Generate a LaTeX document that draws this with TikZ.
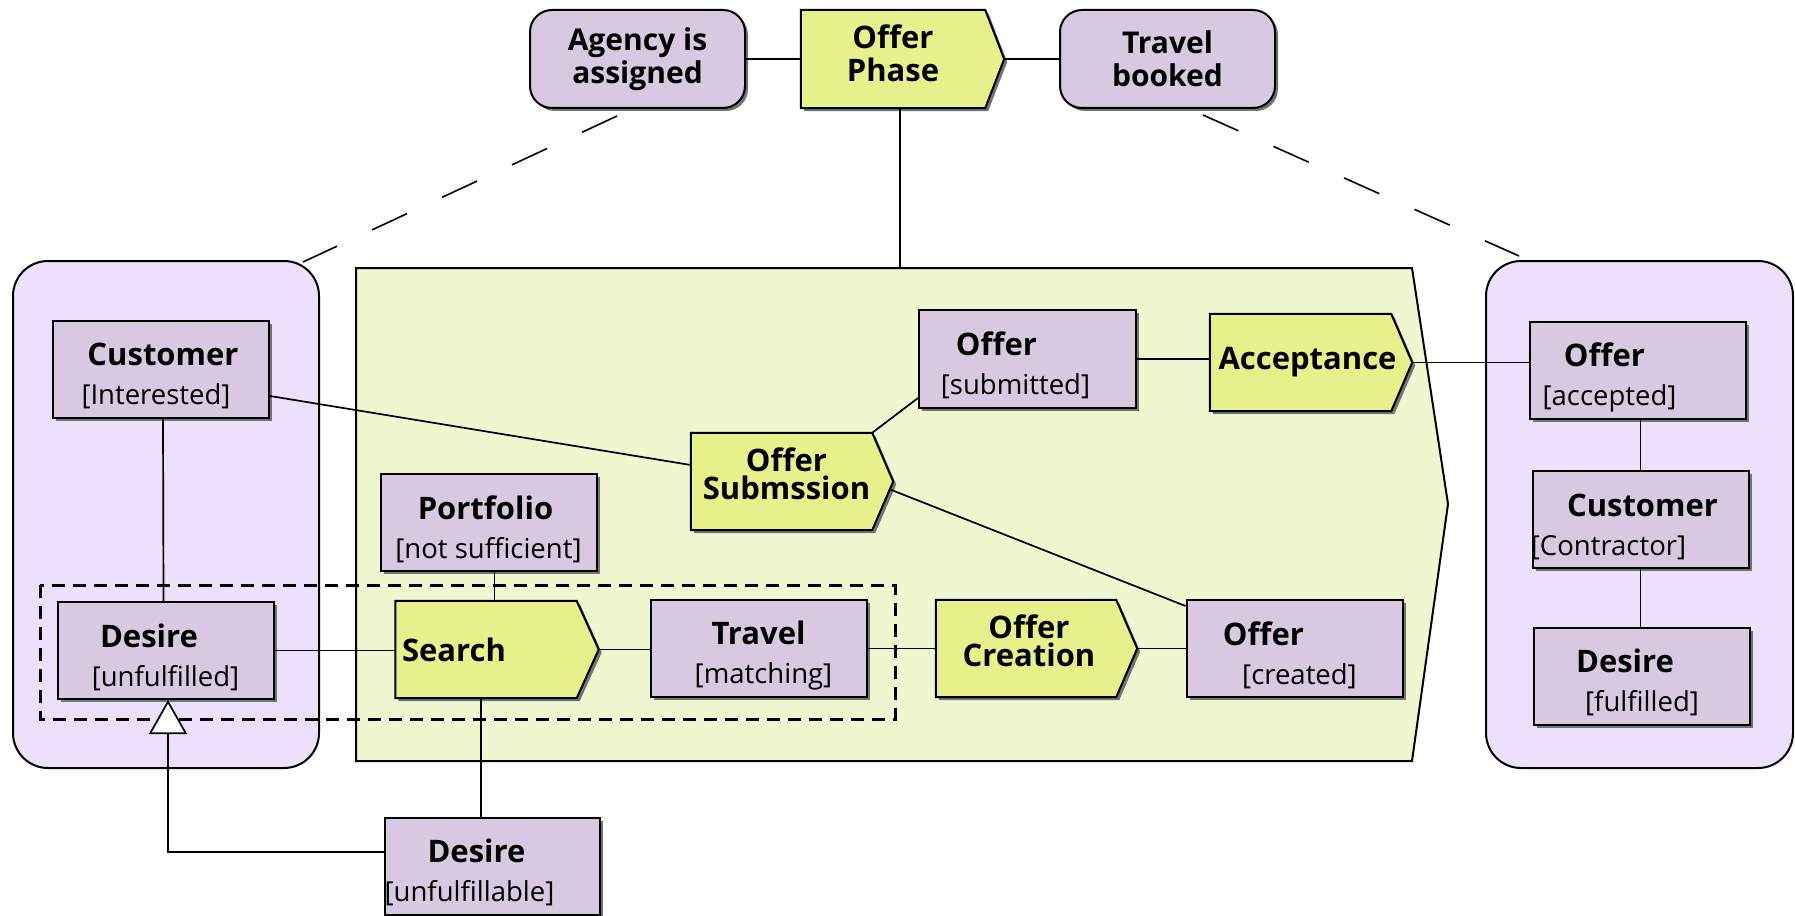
\documentclass[tikz,border=0pt]{standalone}
\usepackage{fontspec}
\setmainfont{Open Sans}
\usetikzlibrary{shadows,arrows.meta,calc}
\definecolor{boxfill}{RGB}{216,201,226}
\definecolor{chevfill}{RGB}{230,241,140}
\definecolor{regfill}{RGB}{240,247,208}
\definecolor{contfill}{RGB}{237,224,252}
\pgfdeclarelayer{bg}
\pgfdeclarelayer{chev}
\pgfsetlayers{bg,chev,main}
\newcommand\shl[2]{\hbox to 0pt{\hss\kern#1\relax #2\hss}}
\newcommand\objt[4]{\shl{#3}{\rule{0pt}{37pt}\bfseries\fontsize{31}{31}\selectfont #1}\\\shl{#4}{#2}}
\newcommand\lowr[1]{\rule[-#1]{0pt}{0pt}}
\tikzset{
 sh/.style={drop shadow={shadow xshift=3pt,shadow yshift=-3pt,fill=black!55,opacity=1}},
 obj/.style={draw=black,line width=2pt,fill=boxfill,minimum width=216pt,minimum height=97pt,inner sep=0pt,align=center,font=\fontsize{27.5}{39}\selectfont,sh},
 ev/.style={draw=black,line width=2pt,fill=boxfill,rounded corners=22pt,minimum width=215pt,minimum height=98pt,inner sep=0pt,align=center,font=\fontsize{30}{33}\bfseries\selectfont,sh},
 chevtext/.style={minimum width=181pt,minimum height=97pt,inner sep=0pt,align=center,font=\fontsize{31}{28}\bfseries\selectfont},
 chevshape/.style={draw=black,line width=2pt,fill=chevfill,sh},
 conn/.style={line width=1.7pt,draw=black},
 cont/.style={draw=black,line width=2pt,fill=contfill,rounded corners=35pt},
 region/.style={draw=black,line width=2pt,fill=regfill},
 group/.style={draw=black,line width=3pt,dash pattern=on 13pt off 8pt},
 trace/.style={draw=black,line width=1.6pt,dash pattern=on 38.6pt off 38.6pt},
}
\begin{document}
\begin{tikzpicture}[x=1pt,y=-1pt]
\useasboundingbox (0,0) rectangle (1795,915);
\begin{pgfonlayer}{bg}
\draw[cont] (13,261) rectangle (319,768);
\draw[cont] (1486,261) rectangle (1793,768);
\draw[region] (356,268) -- (1412,268) -- (1448,504) -- (1412,761) -- (356,761) -- cycle;
\draw[group] (40,585) rectangle (895,719);
\end{pgfonlayer}
\coordinate (regtop) at (900,268);
\coordinate (ta) at (617,116);
\coordinate (lc) at (303,262);
\coordinate (tb) at (1203,115);
\coordinate (rc) at (1519,256);

\node[ev] (agency) at (637.5,59) {Agency is\\assigned};
\node[chevtext,minimum width=184pt,minimum height=98pt,font=\fontsize{31}{33}\bfseries\selectfont] (phase) at (893,59) {Offer\\Phase\lowr{12pt}};
\node[ev] (booked) at (1167.5,59) {Travel\\booked};

\node[obj] (custI) at (161,369) {\objt{Customer}{[Interested]}{4pt}{-10pt}};
\node[obj] (desU) at (165.5,650.5) {\objt{Desire}{[unfulfilled]}{-33pt}{0pt}};
\node[obj] (portf) at (488.5,522.5) {\objt{Portfolio}{[not sufficient]}{-6pt}{0pt}};
\node[chevtext] (search) at (486,649.5) {\shl{-64pt}{Search}};
\node[obj] (travel) at (758.5,648.5) {\objt{Travel}{[matching]}{0pt}{10pt}};
\node[chevtext,minimum width=180pt] (ocreat) at (1026,648.5) {\shl{6pt}{Offer}\\\shl{6pt}{Creation}\lowr{16pt}};
\node[obj] (offcr) at (1294.5,648.5) {\objt{Offer}{[created]}{-62pt}{10pt}};
\node[chevtext] (osubm) at (781.5,481.5) {\shl{10pt}{Offer}\\\shl{10pt}{Submssion}\lowr{16pt}};
\node[obj,minimum width=217pt,minimum height=98pt] (offsub) at (1027.5,359) {\objt{Offer}{[submitted]}{-62pt}{-24pt}};
\node[chevtext] (accept) at (1300.5,362.5) {\shl{14pt}{Acceptance}};
\node[obj] (offacc) at (1637.5,370.5) {\objt{Offer}{[accepted]}{-66pt}{-56pt}};
\node[obj] (custC) at (1640.5,519.5) {\objt{Customer}{[Contractor]}{4pt}{-64pt}};
\node[obj] (desF) at (1642,676) {\objt{Desire}{[fulfilled]}{-34pt}{0pt}};
\node[obj,minimum width=215pt] (desUF) at (492.5,866) {\objt{Desire}{[unfulfillable]}{-32pt}{-46pt}};

\begin{pgfonlayer}{chev}
\foreach \n/\t in {phase/19,search/22,ocreat/21,osubm/21,accept/21}
  \draw[chevshape] (\n.north west) -- (\n.north east) -- ([xshift=\t pt]\n.east) -- (\n.south east) -- (\n.south west) -- cycle;
\end{pgfonlayer}

\draw[conn] (agency.east) -- (phase.west);
\draw[conn] ([xshift=19pt]phase.east) -- (booked.west);
\draw[conn] ([xshift=7pt]phase.south) -- (regtop);
\draw[trace] (ta) -- (lc);
\draw[trace] (tb) -- (rc);
\draw[conn] ([xshift=2pt]custI.south) -- ([xshift=-2pt]desU.north);
\draw[conn] ([yshift=-27pt]custI.east) -- ([yshift=16.5pt]osubm.west);
\draw[conn] (osubm.north east) -- ([yshift=-39pt]offsub.west);
\draw[conn] ([xshift=18pt,yshift=-8pt]osubm.east) -- ([yshift=-7pt]offcr.north west);
\draw[conn] (offsub.east) -- (offsub.east -| accept.west);
\draw[conn] ([xshift=21pt]accept.east) -- (accept.east -| offacc.west);
\draw[conn] (custC.north |- offacc.south) -- (custC.north);
\draw[conn] (custC.south) -- (custC.south |- desF.north);
\draw[conn] (desU.east) -- (desU.east -| search.west);
\draw[conn] ([xshift=22pt]search.east) -- (search.east -| travel.west);
\draw[conn] (travel.east) -- (travel.east -| ocreat.west);
\draw[conn] ([xshift=21pt]ocreat.east) -- (ocreat.east -| offcr.west);
\draw[conn] ([xshift=6pt]portf.south) -- ([xshift=6pt]portf.south |- search.north);
\draw[conn] ([xshift=-5pt]search.south) -- ([xshift=-5pt]search.south |- desUF.north);
\draw[conn,-{Triangle[length=34pt,width=38pt,fill=white]}] ([yshift=14pt]desUF.west) -| ([xshift=2.5pt]desU.south);
\end{tikzpicture}
\end{document}
